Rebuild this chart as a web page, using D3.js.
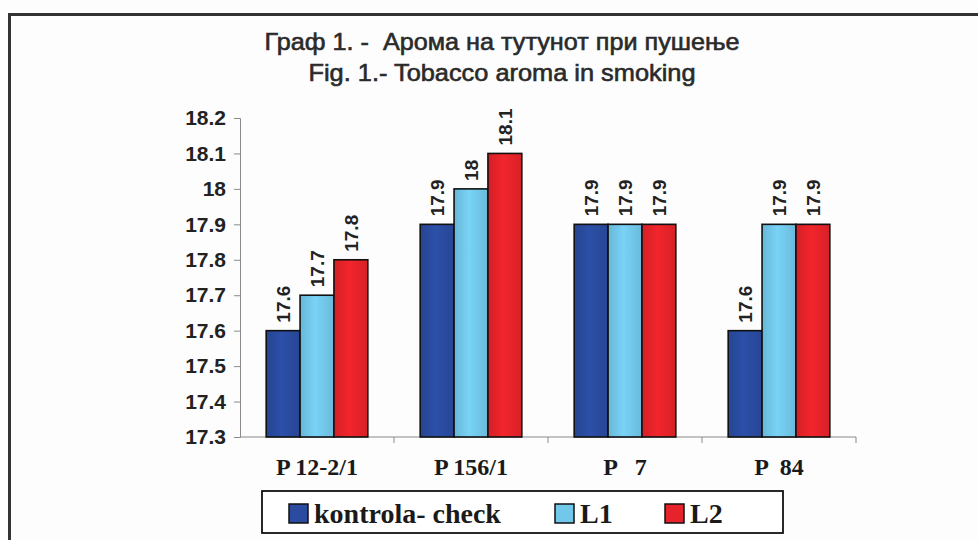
<!DOCTYPE html>
<html>
<head>
<meta charset="utf-8">
<script src="https://cdn.jsdelivr.net/npm/d3@7"></script>
<style>
  body { margin: 0; background: #fff; }
  svg { display: block; }
</style>
</head>
<body>
<svg id="chart"></svg>
<script>
let width = 978;
let height = 540;

// data
let categories = ["P 12-2/1", "P 156/1", "P   7", "P  84"];
let seriesNames = ["kontrola- check", "L1", "L2"];
let kontrola = [17.6, 17.9, 17.9, 17.6];
let l1 = [17.7, 18.0, 17.9, 17.9];
let l2 = [17.8, 18.1, 17.9, 17.9];
let yTicks = [17.3, 17.4, 17.5, 17.6, 17.7, 17.8, 17.9, 18, 18.1, 18.2];
let titleLines = ["Граф 1. -  Арома на тутунот при пушење", "Fig. 1.- Tobacco aroma in smoking"];

let colors = ["#2a4b9f", "#72c8ea", "#e6232a"];
let series = [kontrola, l1, l2];

let svg = d3.select("#chart")
  .attr("width", width)
  .attr("height", height)
  .attr("viewBox", `0 0 ${width} ${height}`);

// gradients to mimic the shaded bars
let defs = svg.append("defs");
colors.forEach(function (c, i) {
  let g = defs.append("linearGradient").attr("id", "grad" + i)
    .attr("x1", "0%").attr("x2", "100%").attr("y1", "0%").attr("y2", "0%");
  g.append("stop").attr("offset", "0%").attr("stop-color", d3.color(c).darker(0.25));
  g.append("stop").attr("offset", "45%").attr("stop-color", d3.color(c).brighter(0.15));
  g.append("stop").attr("offset", "100%").attr("stop-color", d3.color(c).darker(0.2));
});

// outer frame (only top and left are visible)
svg.append("rect")
  .attr("x", 0).attr("y", 0).attr("width", width).attr("height", height)
  .attr("fill", "#fdfdfd");
svg.append("path")
  .attr("d", `M9.5,${height} V14.5 H${width}`)
  .attr("fill", "none")
  .attr("stroke", "#333")
  .attr("stroke-width", 3);

// titles (the scan is stretched sideways, so fit the width)
let titleWidths = [475, 387];
svg.selectAll(".title")
  .data(titleLines)
  .enter()
  .append("text")
  .attr("class", "title")
  .attr("x", 502)
  .attr("y", function (d, i) { return 50 + i * 31; })
  .attr("text-anchor", "middle")
  .attr("textLength", function (d, i) { return titleWidths[i]; })
  .attr("lengthAdjust", "spacingAndGlyphs")
  .style("font-family", "'Liberation Sans', Arial, sans-serif")
  .style("font-size", "24px")
  .style("stroke", "#2a2a2a")
  .style("stroke-width", 0.6)
  .style("fill", "#2a2a2a")
  .style("white-space", "pre")
  .text(function (d) { return d; });

// scales
let x0 = d3.scaleBand()
  .domain(categories)
  .range([240, 856])
  .paddingInner(0.34)
  .paddingOuter(0.17);

let x1 = d3.scaleBand()
  .domain(seriesNames)
  .range([0, x0.bandwidth()]);

let y = d3.scaleLinear()
  .domain([17.3, 18.2])
  .range([437, 118]);

// y axis
let yAxis = svg.append("g")
  .attr("transform", "translate(240,0)")
  .call(d3.axisLeft(y).tickValues(yTicks).tickSize(6).tickPadding(8)
    .tickFormat(function (d) { return d3.format("")(+d.toFixed(1)); }));
yAxis.select(".domain").attr("stroke", "#8a8a8a");
yAxis.selectAll(".tick line").attr("stroke", "#8a8a8a");
yAxis.selectAll("text")
  .style("font-family", "'Liberation Sans', Arial, sans-serif")
  .style("font-weight", "bold")
  .style("font-size", "21px")
  .style("fill", "#222");

// x axis line with ticks between groups
let step = x0.step();
let xTickPos = d3.range(0, categories.length + 1).map(function (i) { return 240 + i * step; });
svg.append("line")
  .attr("x1", 240).attr("x2", 856)
  .attr("y1", y(17.3)).attr("y2", y(17.3))
  .attr("stroke", "#8a8a8a");
svg.selectAll(".xtick")
  .data(xTickPos.slice(1))
  .enter()
  .append("line")
  .attr("x1", function (d) { return d; })
  .attr("x2", function (d) { return d; })
  .attr("y1", y(17.3)).attr("y2", y(17.3) + 6)
  .attr("stroke", "#8a8a8a");

svg.selectAll(".xlabel")
  .data(categories)
  .enter()
  .append("text")
  .attr("x", function (d) { return x0(d) + x0.bandwidth() / 2; })
  .attr("y", 475)
  .attr("text-anchor", "middle")
  .style("font-family", "'Liberation Serif', 'Times New Roman', serif")
  .style("font-weight", "bold")
  .style("font-size", "24px")
  .style("fill", "#1a1a1a")
  .style("white-space", "pre")
  .text(function (d) { return d; });

// bars
let rows = [];
categories.forEach(function (c, ci) {
  series.forEach(function (s, si) {
    rows.push({ cat: c, name: seriesNames[si], idx: si, value: s[ci] });
  });
});

let bars = svg.append("g");
bars.selectAll("rect")
  .data(rows)
  .enter()
  .append("rect")
  .attr("x", function (d) { return x0(d.cat) + x1(d.name); })
  .attr("y", function (d) { return y(d.value); })
  .attr("width", x1.bandwidth())
  .attr("height", function (d) { return y(17.3) - y(d.value); })
  .attr("fill", function (d) { return "url(#grad" + d.idx + ")"; })
  .attr("stroke", "#111")
  .attr("stroke-width", 1.6);

// value labels, rotated
bars.selectAll("text")
  .data(rows)
  .enter()
  .append("text")
  .attr("transform", function (d) {
    let cx = x0(d.cat) + x1(d.name) + x1.bandwidth() / 2;
    return "translate(" + (cx + 7) + "," + (y(d.value) - 8) + ") rotate(-90)";
  })
  .attr("text-anchor", "start")
  .style("font-family", "'Liberation Sans', Arial, sans-serif")
  .style("font-weight", "bold")
  .style("font-size", "19px")
  .style("fill", "#222")
  .text(function (d) { return d3.format("")(d.value); });

// legend
let legend = svg.append("g");
legend.append("rect")
  .attr("x", 262).attr("y", 491)
  .attr("width", 521).attr("height", 42)
  .attr("fill", "#fff")
  .attr("stroke", "#111")
  .attr("stroke-width", 1.8);

let legendX = [289, 555, 665];
let legendItems = legend.selectAll(".item")
  .data(seriesNames)
  .enter()
  .append("g")
  .attr("transform", function (d, i) { return "translate(" + legendX[i] + ",504)"; });
legendItems.append("rect")
  .attr("width", 19).attr("height", 19)
  .attr("fill", function (d, i) { return colors[i]; })
  .attr("stroke", "#111")
  .attr("stroke-width", 1.5);
legendItems.append("text")
  .attr("x", 25)
  .attr("y", 19)
  .style("font-family", "'Liberation Serif', 'Times New Roman', serif")
  .style("font-weight", "bold")
  .style("font-size", "28px")
  .style("fill", "#1a1a1a")
  .text(function (d) { return d; });
</script>
</body>
</html>
